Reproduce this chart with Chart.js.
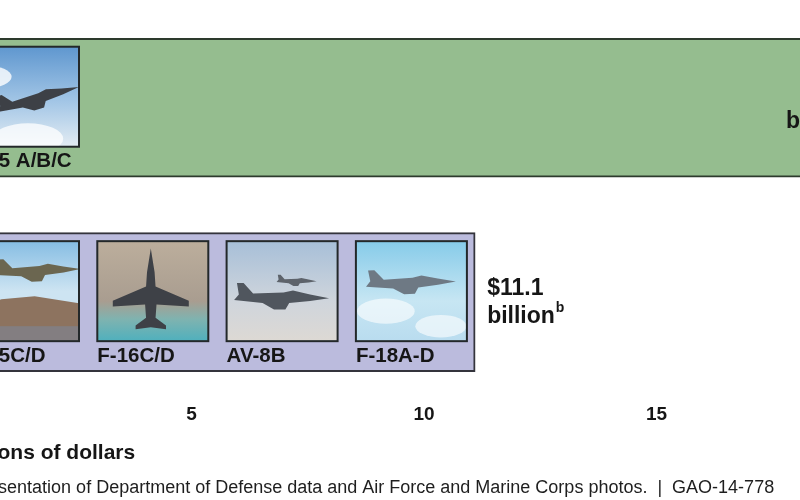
<!DOCTYPE html>
<html><head><meta charset="utf-8">
<script src="https://cdn.jsdelivr.net/npm/chart.js@4.4.1/dist/chart.umd.min.js"></script>
<style>
html,body{margin:0;padding:0;background:#fff;overflow:hidden;width:800px;height:500px;position:relative;}
#wrap{position:absolute;left:-140px;top:0;width:1040px;height:500px;}
</style></head><body>
<div id="wrap"><canvas id="c" width="1040" height="500"></canvas></div>
<script>
// ---- data ----
const categories = ['F-35 A/B/C', 'Legacy aircraft'];
const costBillions = [19.9, 11.1];
const costLabels = ['$19.9', '$11.1'];
const xTickValues = [5, 10, 15];
const aircraftGroups = [['F-35 A/B/C'], ['F-15C/D', 'F-16C/D', 'AV-8B', 'F-18A-D']];
const photoKinds = [['f35'], ['f15', 'f16', 'av8b', 'f18']];
const barColors = ['#95bd8f', '#bbbbdd'];
const axisTitle = 'Billions of dollars';
const sourceText = 'Source: GAO presentation of Department of Defense data and Air Force and Marine Corps photos.  |  GAO-14-778';

const FONT = "'Liberation Sans', Arial, Helvetica, sans-serif";
const INK = '#161616';

function jet(ctx, cx, cy, s, ang, color) {
  ctx.save(); ctx.translate(cx, cy); ctx.rotate(ang); ctx.scale(s, s);
  ctx.fillStyle = color; ctx.beginPath();
  ctx.moveTo(50, 0); ctx.lineTo(30, -4); ctx.lineTo(12, -8); ctx.lineTo(2, -6); ctx.lineTo(-30, -5);
  ctx.lineTo(-40, -16); ctx.lineTo(-47, -16); ctx.lineTo(-45, -4); ctx.lineTo(-50, 2);
  ctx.lineTo(-20, 5); ctx.lineTo(-8, 12); ctx.lineTo(4, 12); ctx.lineTo(8, 5); ctx.lineTo(30, 3);
  ctx.closePath(); ctx.fill();
  ctx.restore();
}
function jetTop(ctx, cx, cy, s, color) {
  ctx.save(); ctx.translate(cx, cy); ctx.scale(s, s); ctx.fillStyle = color; ctx.beginPath();
  ctx.moveTo(0, -45); ctx.lineTo(4, -20); ctx.lineTo(5, -5); ctx.lineTo(40, 10); ctx.lineTo(40, 16);
  ctx.lineTo(6, 14); ctx.lineTo(5, 28); ctx.lineTo(16, 36); ctx.lineTo(16, 40); ctx.lineTo(0, 38);
  ctx.lineTo(-16, 40); ctx.lineTo(-16, 36); ctx.lineTo(-5, 28); ctx.lineTo(-6, 14); ctx.lineTo(-40, 16);
  ctx.lineTo(-40, 10); ctx.lineTo(-5, -5); ctx.lineTo(-4, -20); ctx.closePath(); ctx.fill(); ctx.restore();
}
function cloud(ctx, x, y, r, a) {
  ctx.fillStyle = 'rgba(255,255,255,' + a + ')';
  ctx.beginPath(); ctx.ellipse(x, y, r * 1.6, r * 0.7, 0, 0, Math.PI * 2); ctx.fill();
}
function drawPhoto(ctx, kind, x, y, w, h) {
  ctx.save();
  ctx.beginPath(); ctx.rect(x, y, w, h); ctx.clip();
  let g = ctx.createLinearGradient(0, y, 0, y + h);
  if (kind === 'f35') {
    g.addColorStop(0, '#5f97cf'); g.addColorStop(0.55, '#a3c6e6'); g.addColorStop(1, '#e3ecf3');
    ctx.fillStyle = g; ctx.fillRect(x, y, w, h);
    cloud(ctx, x + 18, y + 30, 16, 0.8); cloud(ctx, x + 60, y + 92, 22, 0.75);
    jet(ctx, x + 70, y + 52, 0.85, -0.28, '#3d4046');
  } else if (kind === 'f15') {
    g.addColorStop(0, '#86bde3'); g.addColorStop(0.5, '#cde4f2'); g.addColorStop(1, '#cde4f2');
    ctx.fillStyle = g; ctx.fillRect(x, y, w, h);
    ctx.fillStyle = '#8d735f'; ctx.beginPath();
    ctx.moveTo(x, y + h * 0.72); ctx.lineTo(x + w * 0.3, y + h * 0.58); ctx.lineTo(x + w * 0.6, y + h * 0.55);
    ctx.lineTo(x + w, y + h * 0.62); ctx.lineTo(x + w, y + h); ctx.lineTo(x, y + h); ctx.closePath(); ctx.fill();
    ctx.fillStyle = 'rgba(120,140,170,0.45)'; ctx.fillRect(x, y + h * 0.85, w, h * 0.15);
    jet(ctx, x + 70, y + 30, 0.85, -0.05, '#6b6650');
  } else if (kind === 'f16') {
    g.addColorStop(0, '#bcae9c'); g.addColorStop(0.6, '#a99d90'); g.addColorStop(0.78, '#7fb3b0'); g.addColorStop(1, '#4fb0bd');
    ctx.fillStyle = g; ctx.fillRect(x, y, w, h);
    jetTop(ctx, x + w / 2 - 2, y + 50, 0.95, '#3e4147');
  } else if (kind === 'av8b') {
    g.addColorStop(0, '#a7bfd8'); g.addColorStop(0.6, '#cfd5dc'); g.addColorStop(1, '#ddd9d4');
    ctx.fillStyle = g; ctx.fillRect(x, y, w, h);
    jet(ctx, x + 55, y + 57, 0.95, 0, '#50565e');
    jet(ctx, x + 70, y + 40, 0.4, 0, '#5d636b');
  } else {
    g.addColorStop(0, '#86cbe9'); g.addColorStop(0.6, '#c7e6f3'); g.addColorStop(1, '#b9dcef');
    ctx.fillStyle = g; ctx.fillRect(x, y, w, h);
    cloud(ctx, x + 30, y + 70, 18, 0.6); cloud(ctx, x + 85, y + 85, 16, 0.6);
    jet(ctx, x + 55, y + 42, 0.9, -0.04, '#6e7984');
  }
  ctx.restore();
  ctx.strokeStyle = '#23282a'; ctx.lineWidth = 2;
  ctx.strokeRect(x, y, w, h);
}

const decorPlugin = {
  id: 'decor',
  afterDatasetsDraw(chart) {
    const ctx = chart.ctx;
    const meta = chart.getDatasetMeta(0);
    meta.data.forEach((el, i) => {
      const p = el.getProps(['x', 'y', 'base', 'height'], true);
      const top = p.y - p.height / 2;
      const boxW = 111, boxH = 100, pitch = 129.3;
      aircraftGroups[i].forEach((name, j) => {
        const bx = p.base + 9 + j * pitch;
        const by = top + 8.5;
        drawPhoto(ctx, photoKinds[i][j], bx, by, boxW, boxH);
        ctx.save();
        ctx.fillStyle = INK; ctx.font = 'bold 20.5px ' + FONT;
        ctx.textAlign = 'left'; ctx.textBaseline = 'middle';
        ctx.fillText(name, bx, by + boxH + 15);
        ctx.restore();
      });
      // value labels
      ctx.save();
      ctx.fillStyle = INK; ctx.textBaseline = 'middle'; ctx.textAlign = 'left';
      ctx.font = 'bold 23px ' + FONT;
      const w1 = ctx.measureText(costLabels[i]).width;
      const wb = ctx.measureText('billion').width;
      ctx.font = 'bold 14px ' + FONT;
      const ws = ctx.measureText('b').width;
      const total = wb + 1 + ws;
      let x1, x2;
      if (i === 0) { x2 = p.x - 21 - total; x1 = p.x - 21 - w1; }
      else { x1 = p.x + 12; x2 = p.x + 12; }
      ctx.font = 'bold 23px ' + FONT;
      ctx.fillText(costLabels[i], x1, p.y - 14);
      ctx.fillText('billion', x2, p.y + 14);
      ctx.font = 'bold 14px ' + FONT;
      ctx.fillText('b', x2 + wb + 1, p.y + 6);
      ctx.restore();
    });
    // source line
    ctx.save();
    ctx.fillStyle = '#1e1e1e'; ctx.font = '18px ' + FONT;
    ctx.textAlign = 'left'; ctx.textBaseline = 'middle';
    ctx.fillText(sourceText, 0, 488);
    ctx.restore();
  }
};

new Chart(document.getElementById('c'), {
  type: 'bar',
  data: {
    labels: categories,
    datasets: [{
      data: costBillions,
      backgroundColor: barColors,
      borderColor: ['#2d3a2d', '#34343c'],
      borderWidth: 2,
      borderSkipped: false,
      barThickness: 139
    }]
  },
  options: {
    indexAxis: 'y',
    responsive: false,
    animation: false,
    layout: { padding: { left: 99, right: 11, top: 10.5, bottom: 32 } },
    plugins: { legend: { display: false }, tooltip: { enabled: false } },
    scales: {
      x: {
        type: 'linear', min: 0, max: 20,
        afterBuildTicks: s => { s.ticks = xTickValues.map(v => ({ value: v })); },
        grid: { display: false, drawTicks: false },
        border: { display: false },
        ticks: { color: INK, padding: 3.5, font: { family: FONT, size: 19, weight: 'bold' } },
        title: { display: true, text: axisTitle, align: 'start', color: INK,
                 padding: { top: 11.6, bottom: 2 }, font: { family: FONT, size: 21, weight: 'bold' } }
      },
      y: { display: false }
    }
  },
  plugins: [decorPlugin]
});
</script>
</body></html>
